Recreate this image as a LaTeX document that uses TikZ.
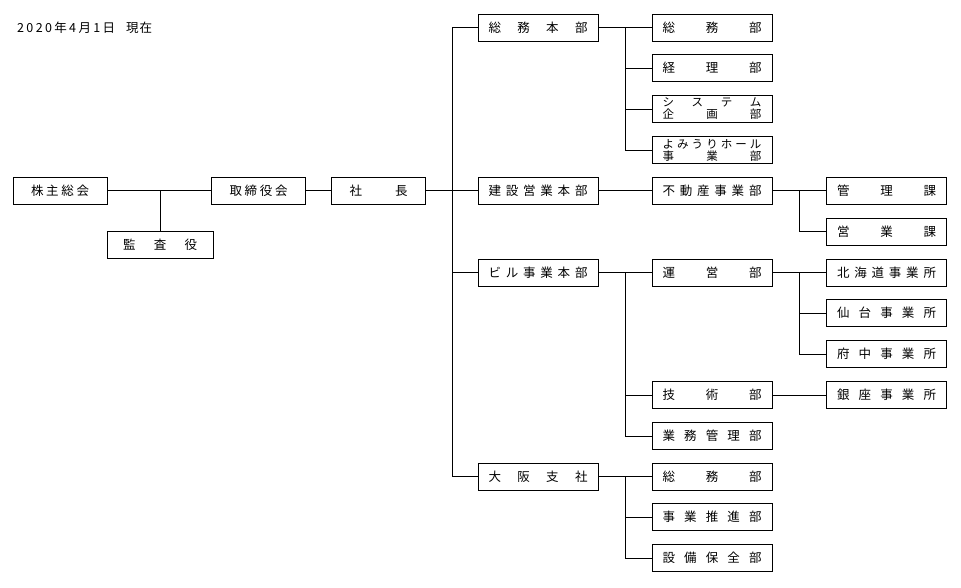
\documentclass[tikz,border=0pt]{standalone}
\usepackage{fontspec}
\setmainfont{Noto Sans CJK JP}
\usetikzlibrary{positioning}
\newcommand{\spread}[2]{\makebox[#1][s]{#2}}
\tikzset{
  unit/.style = {draw, line width = 0.9pt, minimum width = 120pt, minimum height = 27pt, inner sep = 0pt},
  top/.style = {unit, minimum width = 94pt},
  twoline/.style = {align = center, font = \fontsize{11.5pt}{12pt}\selectfont},
  link/.style = {line width = 0.9pt}
}

\begin{document}
\begin{tikzpicture}[x = 1pt, y = -1pt, font = \fontsize{12.5pt}{14pt}\selectfont]
                \useasboundingbox (0, 0) rectangle (961, 587);

                \node (date) [anchor = west, inner sep = 0pt] at (17, 27.5) { \spread{98pt}{2\hfill 0\hfill 2\hfill 0\hfill 年\hfill 4\hfill 月\hfill 1\hfill 日}\hspace{11pt}\spread{26pt}{現\hfill 在} };

                % top of the chart
                \node (kabunushi) [top] at (60, 190.5) { \spread{58pt}{株\hfill 主\hfill 総\hfill 会} };
                \node (kansa) [top, minimum width = 106pt] at (160, 245) { \spread{74pt}{監\hfill 査\hfill 役} };
                \node (torishimari) [top] at (258.5, 190.5) { \spread{58pt}{取\hfill 締\hfill 役\hfill 会} };
                \node (shacho) [top] at (378.5, 190.5) { \spread{58pt}{社\hfill 長} };

                % honbu
                \node (somuhq) [unit] at (538, 27.5) { \spread{99pt}{総\hfill 務\hfill 本\hfill 部} };
                \node (kensetsu) [unit] at (538, 190.5) { \spread{99pt}{建\hfill 設\hfill 営\hfill 業\hfill 本\hfill 部} };
                \node (biru) [unit] at (538, 272.5) { \spread{99pt}{ビ\hfill ル\hfill 事\hfill 業\hfill 本\hfill 部} };
                \node (osaka) [unit] at (538, 476.5) { \spread{99pt}{大\hfill 阪\hfill 支\hfill 社} };

                % bu
                \node (somu) [unit] at (712, 27.5) { \spread{99pt}{総\hfill 務\hfill 部} };
                \node (keiri) [unit] at (712, 68) { \spread{99pt}{経\hfill 理\hfill 部} };
                \node (system) [unit, twoline] at (712, 109) { \spread{99pt}{シ\hfill ス\hfill テ\hfill ム}\\ \spread{99pt}{企\hfill 画\hfill 部} };
                \node (yomiuri) [unit, twoline] at (712, 150) { \spread{99pt}{よ\hfill み\hfill う\hfill り\hfill ホ\hfill ー\hfill ル}\\ \spread{99pt}{事\hfill 業\hfill 部} };
                \node (fudosan) [unit] at (712, 190.5) { \spread{99pt}{不\hfill 動\hfill 産\hfill 事\hfill 業\hfill 部} };
                \node (unei) [unit] at (712, 272.5) { \spread{99pt}{運\hfill 営\hfill 部} };
                \node (gijutsu) [unit] at (712, 395) { \spread{99pt}{技\hfill 術\hfill 部} };
                \node (gyomu) [unit] at (712, 436) { \spread{99pt}{業\hfill 務\hfill 管\hfill 理\hfill 部} };
                \node (osomu) [unit] at (712, 476.5) { \spread{99pt}{総\hfill 務\hfill 部} };
                \node (suishin) [unit] at (712, 517) { \spread{99pt}{事\hfill 業\hfill 推\hfill 進\hfill 部} };
                \node (hozen) [unit] at (712, 558) { \spread{99pt}{設\hfill 備\hfill 保\hfill 全\hfill 部} };

                % ka / jigyosho
                \node (kanri) [unit] at (886.5, 190.5) { \spread{99pt}{管\hfill 理\hfill 課} };
                \node (eigyo) [unit] at (886.5, 231.5) { \spread{99pt}{営\hfill 業\hfill 課} };
                \node (hokkaido) [unit] at (886.5, 272.5) { \spread{99pt}{北\hfill 海\hfill 道\hfill 事\hfill 業\hfill 所} };
                \node (sendai) [unit] at (886.5, 313) { \spread{99pt}{仙\hfill 台\hfill 事\hfill 業\hfill 所} };
                \node (fuchu) [unit] at (886.5, 354) { \spread{99pt}{府\hfill 中\hfill 事\hfill 業\hfill 所} };
                \node (ginza) [unit] at (886.5, 395) { \spread{99pt}{銀\hfill 座\hfill 事\hfill 業\hfill 所} };

                \coordinate (kansaj) at (160, 190.5);
                \coordinate (spine) at (452, 0);
                \coordinate (bu) at (625, 0);
                \coordinate (ka) at (799, 0);

                \draw [link] (kabunushi) -- (torishimari);
                \draw [link] (kansaj) -- (kansa);
                \draw [link] (torishimari) -- (shacho);

                \draw [link] (shacho.east) -- (shacho.east -| spine);
                \draw [link] (shacho.east -| spine) |- (somuhq.west);
                \draw [link] (shacho.east -| spine) |- (kensetsu.west);
                \draw [link] (shacho.east -| spine) |- (biru.west);
                \draw [link] (shacho.east -| spine) |- (osaka.west);

                \draw [link] (somuhq.east) -- (somu.west);
                \draw [link] (somuhq.east -| bu) |- (keiri.west);
                \draw [link] (somuhq.east -| bu) |- (system.west);
                \draw [link] (somuhq.east -| bu) |- (yomiuri.west);

                \draw [link] (kensetsu) -- (fudosan);

                \draw [link] (biru.east) -- (unei.west);
                \draw [link] (biru.east -| bu) |- (gijutsu.west);
                \draw [link] (biru.east -| bu) |- (gyomu.west);

                \draw [link] (osaka.east) -- (osomu.west);
                \draw [link] (osaka.east -| bu) |- (suishin.west);
                \draw [link] (osaka.east -| bu) |- (hozen.west);

                \draw [link] (fudosan.east) -- (kanri.west);
                \draw [link] (fudosan.east -| ka) |- (eigyo.west);

                \draw [link] (unei.east) -- (hokkaido.west);
                \draw [link] (unei.east -| ka) |- (sendai.west);
                \draw [link] (unei.east -| ka) |- (fuchu.west);

                \draw [link] (gijutsu) -- (ginza);
            \end{tikzpicture}
\end{document}
